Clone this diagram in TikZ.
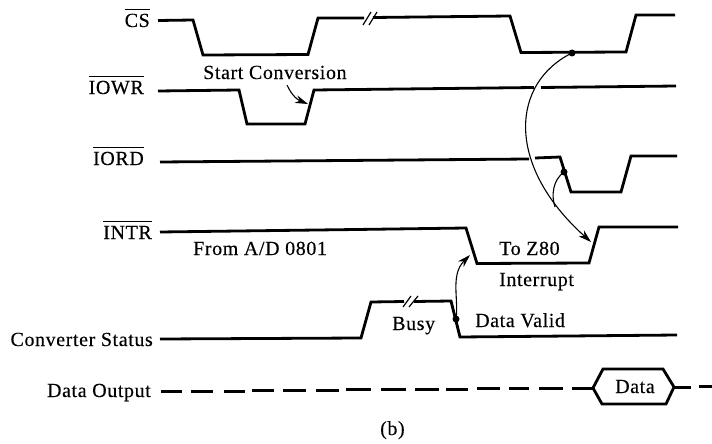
\documentclass[tikz,border=0pt]{standalone}
\usepackage{fontspec}
\setmainfont[LetterSpace=3,FakeBold=0.25]{Liberation Serif}
\usetikzlibrary{arrows.meta}
\newcommand\ovl[1]{\setbox0=\hbox{#1}\rlap{\rule[17.5pt]{\wd0}{0.9pt}}\box0}
\tikzset{
  x=1pt,y=-1pt,
  wave/.style={line width=2.8pt,line join=miter,black},
  dashw/.style={line width=3pt,black},
  slash/.style={line width=1.2pt},
  link/.style={line width=1.1pt},
  tip/.style={-{Stealth[length=13pt,width=8pt]}},
  txt/.style={inner sep=0pt,font=\fontsize{20}{22}\selectfont},
  lblr/.style={txt,anchor=base east},
  lbll/.style={txt,anchor=base west},
  dotn/.style={circle,fill=black,inner sep=0pt,minimum size=7pt},
}
\begin{document}
\begin{tikzpicture}
\useasboundingbox[fill=white] (0,0) rectangle (712,444);
% labels
\node[lblr] (lcs) at (150,27) {\ovl{CS}};
\node[lblr] (liowr) at (144,94) {\ovl{IOWR}};
\node[lblr] (liord) at (144,165) {\ovl{IORD}};
\node[lblr] (lintr) at (152,239) {\ovl{INTR}};
\node[lblr] (lconv) at (153,346) {Converter Status};
\node[lblr] (ldout) at (151,397) {Data Output};
\node[lbll] (lstart) at (203,79) {Start Conversion};
\node[lbll] (lfrom) at (193,255) {From A/D 0801};
\node[lbll] (lto) at (499,255) {To Z80};
\node[lbll] (lint) at (499,286) {Interrupt};
\node[lbll] (lbusy) at (392,330) {Busy};
\node[lbll] (lvalid) at (475,327) {Data Valid};
\node[lbll] (ldata) at (615,393) {Data};
\node[lbll] (lb) at (380,435) {(b)};
% waveforms
\draw[wave] (158,20.5) -- (193,20) -- (203,55) -- (308,54.5) -- (318,18) -- (364,18);
\draw[wave] (373,17.5) -- (510,16) -- (521,52.5) -- (626,52) -- (636,15) -- (675,15);
\draw[slash] (363,25) -- (371,12) (369,25) -- (377,12);
\draw[wave] (158,91) -- (239,90) -- (247,124) -- (305,124) -- (314,90) -- (534,87.5);
\draw[wave] (541,87.5) -- (676,86);
\draw[wave] (160,162) -- (529,159);
\draw[wave] (535,158) -- (560,157) -- (571,192) -- (621,192) -- (631,156) -- (677,156);
\draw[wave] (160,232) -- (356,229.5) -- (466,228) -- (477,263.5) -- (589,263) -- (599,227) -- (678,227);
\draw[wave] (160,339) -- (361,338) -- (371,302) -- (404,301.5);
\draw[wave] (414,301.5) -- (451,301) -- (460,337) -- (677,335);
\draw[slash] (403,307) -- (411,296) (409,307) -- (418,296);
% data output dashes
\draw[dashw] (161,391.5)--(182,391.5) (191,391.5)--(213,391.5) (224,391.5)--(245,391.5) (252,390.5)--(274,390.5)
  (283,390.5)--(306,390.5) (316,390.5)--(339,390.5) (346,389.5)--(371,389.5) (381,389.5)--(406,389.5)
  (415,389.5)--(439,389.5) (446,389.5)--(468,389.5) (477,388.5)--(500,388.5) (509,388.5)--(529,388.5)
  (539,388.5)--(563,388.5) (572,388.5)--(593,388.5) (674,387.5)--(691,387.5) (699,386.5)--(712,386.5);
\draw[wave] (593,388) -- (603,369) -- (663,369) -- (674,387) -- (666,404) -- (602,404) -- cycle;
% connectors
\node[dotn] (d1) at (572,53) {};
\node[dotn] (d2) at (564,172) {};
\node[dotn] (d3) at (456,319) {};
\coordinate (t1) at (591,242);
\coordinate (j1) at (555,207);
\coordinate (t2) at (470,255);
\coordinate (s0) at (287,85);
\coordinate (s1) at (308,104);
\draw[link,tip] (d1.center) .. controls (511,83) and (505,165) .. (t1);
\draw[link] (d2.center) .. controls (553,180) and (551,195) .. (j1);
\draw[link,tip] (d3.center) .. controls (459,300) and (450,275) .. (t2);
\draw[link,tip] (s0) .. controls (292,96) and (298,100) .. (s1);
\end{tikzpicture}
\end{document}
